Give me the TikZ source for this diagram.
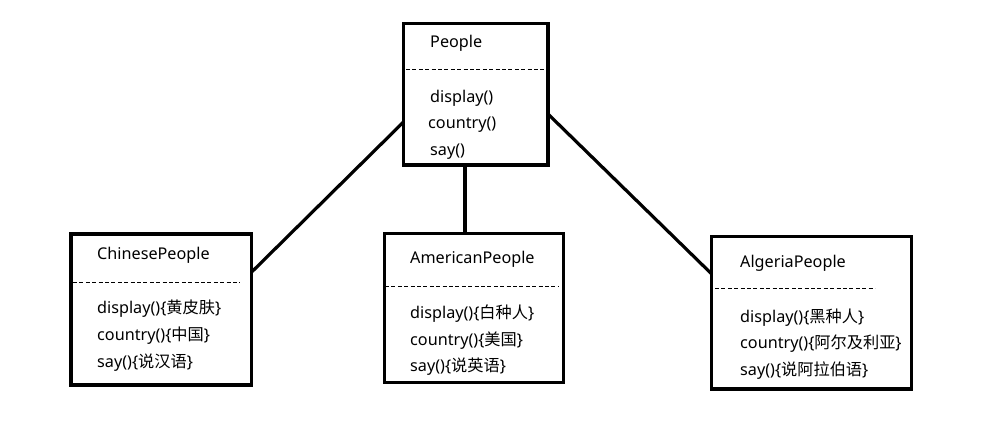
\documentclass[tikz,border=0pt]{standalone}
\usepackage{fontspec}
\setmainfont{Noto Sans}
\newfontfamily\cjk{Noto Sans CJK SC}
\begin{document}
\begin{tikzpicture}[x=1pt,y=-1pt,
  umlbox/.style={draw=black, line width=3.2pt, outer sep=0pt, inner sep=0pt, anchor=north west, fill=white},
  conn/.style={draw=black, line width=3.2pt},
  sep/.style={draw=black, line width=1pt, dash pattern=on 4pt off 2.4pt},
  txt/.style={anchor=base west, inner sep=0pt, font=\fontsize{16.2}{19}\selectfont}
]
\fill[white] (0,0) rectangle (992,426);
\useasboundingbox (0,0) rectangle (992,426);

% boxes
\node[umlbox, minimum width=144.5pt, minimum height=141.5pt] (people) at (403.5,23.5) {};
\node[umlbox, minimum width=180.7pt, minimum height=151pt] (chinese) at (71,234) {};
\node[umlbox, minimum width=179pt, minimum height=149pt] (american) at (384.3,233.3) {};
\node[umlbox, minimum width=200pt, minimum height=152.3pt] (algeria) at (711.7,236.7) {};

% connector end points
\coordinate (pL) at (403.5,122);
\coordinate (pR) at (548,114);
\coordinate (pB) at (465,165);
\coordinate (cR) at (251.7,272);
\coordinate (aT) at (465,233.3);
\coordinate (gL) at (711.7,274);
\draw[conn] (pL) -- (cR);
\draw[conn] (pR) -- (gL);
\draw[conn] (pB) -- (aT);

% separators
\coordinate (ps1) at (406,69); \coordinate (ps2) at (544,69);
\coordinate (cs1) at (73,282); \coordinate (cs2) at (240,282);
\coordinate (as1) at (385,286); \coordinate (as2) at (558,286);
\coordinate (gs1) at (715,288); \coordinate (gs2) at (875,288);
\draw[sep] (ps1) -- (ps2);
\draw[sep] (cs1) -- (cs2);
\draw[sep] (as1) -- (as2);
\draw[sep] (gs1) -- (gs2);

% People
\node[txt] (pt) at (430,47) {People};
\node[txt] (pm1) at (430,102) {display()};
\node[txt] (pm2) at (428,128) {country()};
\node[txt] (pm3) at (430,155) {say()};

% ChinesePeople
\node[txt] (ct) at (97,259) {ChinesePeople};
\node[txt] (cm1) at (97,313) {display()\{{\cjk 黄皮肤}\}};
\node[txt] (cm2) at (97,340) {country()\{{\cjk 中国}\}};
\node[txt] (cm3) at (97,367) {say()\{{\cjk 说汉语}\}};

% AmericanPeople
\node[txt] (at) at (410,263) {AmericanPeople};
\node[txt] (am1) at (410,318) {display()\{{\cjk 白种人}\}};
\node[txt] (am2) at (410,345) {country()\{{\cjk 美国}\}};
\node[txt] (am3) at (410,371) {say()\{{\cjk 说英语}\}};

% AlgeriaPeople
\node[txt] (gt) at (740,267) {AlgeriaPeople};
\node[txt] (gm1) at (740,322) {display()\{{\cjk 黑种人}\}};
\node[txt] (gm2) at (740,348) {country()\{{\cjk 阿尔及利亚}\}};
\node[txt] (gm3) at (740,375) {say()\{{\cjk 说阿拉伯语}\}};
\end{tikzpicture}
\end{document}
